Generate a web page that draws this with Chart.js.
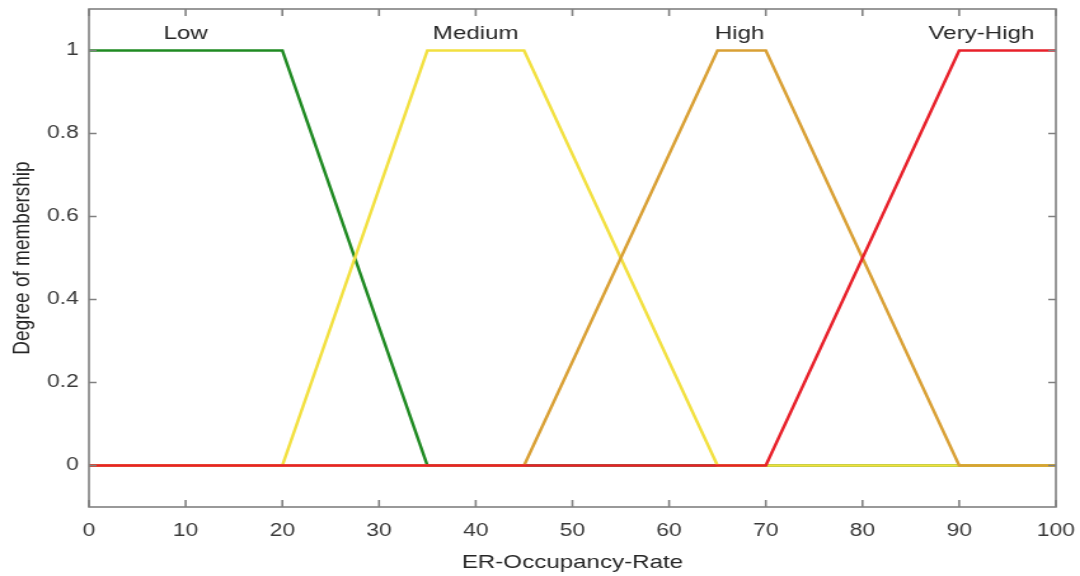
<!DOCTYPE html>
<html>
<head>
<meta charset="utf-8">
<script src="https://cdn.jsdelivr.net/npm/chart.js@4.4.0/dist/chart.umd.min.js"></script>
<style>
  html, body { margin: 0; padding: 0; background: #fff; overflow: hidden; }
  /* the reference figure is stretched sideways, so the chart is too */
  #wrap { width: 850px; height: 576px; transform: scaleX(1.2706); transform-origin: 0 0; }
</style>
</head>
<body>
<div id="wrap"><canvas id="chart"></canvas></div>
<script>
const xTicks = [0, 10, 20, 30, 40, 50, 60, 70, 80, 90, 100];
const yTicks = [0, 0.2, 0.4, 0.6, 0.8, 1];

// membership functions, MATLAB style (each drawn over the full range)
const lowX = [0, 20, 35, 100];
const lowY = [1, 1, 0, 0];
const mediumX = [0, 20, 35, 45, 65, 100];
const mediumY = [0, 0, 1, 1, 0, 0];
const highX = [0, 45, 65, 70, 90, 100];
const highY = [0, 0, 1, 1, 0, 0];
const veryHighX = [0, 70, 90, 100];
const veryHighY = [0, 0, 1, 1];

// set names written above each function
const setNames = ["Low", "Medium", "High", "Very-High"];
const setNameX = [10, 40, 67.3, 92.3];
const setNameY = [1.04, 1.04, 1.04, 1.04];

const toPoints = (xs, ys) => xs.map((v, i) => ({ x: v, y: ys[i] }));

const frame = {
  id: "frame",
  afterDraw(chart) {
    const { ctx, chartArea: a, scales } = chart;
    const x = scales.x, y = scales.y;
    ctx.save();
    ctx.strokeStyle = "#808080";
    ctx.lineWidth = 1.6;
    ctx.strokeRect(a.left, a.top, a.right - a.left, a.bottom - a.top);
    ctx.beginPath();
    x.ticks.forEach(t => {
      const px = x.getPixelForValue(t.value);
      ctx.moveTo(px, a.bottom); ctx.lineTo(px, a.bottom - 7);
      ctx.moveTo(px, a.top); ctx.lineTo(px, a.top + 7);
    });
    y.ticks.forEach(t => {
      const py = y.getPixelForValue(t.value);
      ctx.moveTo(a.left, py); ctx.lineTo(a.left + 6, py);
      ctx.moveTo(a.right, py); ctx.lineTo(a.right - 6, py);
    });
    ctx.stroke();

    ctx.font = '19px "Liberation Sans", Arial, sans-serif';
    ctx.fillStyle = "#262626";
    ctx.textAlign = "center";
    ctx.textBaseline = "middle";
    setNames.forEach((n, i) => {
      ctx.fillText(n, x.getPixelForValue(setNameX[i]), y.getPixelForValue(setNameY[i]));
    });
    ctx.restore();
  }
};

const line = (label, xs, ys, color, order) => ({
  label: label,
  data: toPoints(xs, ys),
  showLine: true,
  borderColor: color,
  borderWidth: 2.5,
  pointRadius: 0,
  fill: false,
  order: order, // higher order is drawn first
});

new Chart(document.getElementById("chart"), {
  type: "scatter",
  data: {
    datasets: [
      line("Low", lowX, lowY, "#1f8a22", 3),
      line("Medium", mediumX, mediumY, "#f2e040", 2),
      line("High", highX, highY, "#d9a035", 1),
      line("Very-High", veryHighX, veryHighY, "#e8202a", 0),
    ],
  },
  options: {
    responsive: true,
    maintainAspectRatio: false,
    animation: false,
    layout: { padding: { top: 9, right: 19, bottom: 0, left: 0 } },
    plugins: { legend: { display: false }, tooltip: { enabled: false } },
    scales: {
      x: {
        type: "linear",
        min: 0,
        max: 100,
        afterBuildTicks: s => { s.ticks = xTicks.map(v => ({ value: v })); },
        afterFit: s => { s.height = 69; s.paddingLeft = 0; s.paddingRight = 0; },
        grid: { display: false, drawTicks: false },
        border: { display: false },
        ticks: {
          padding: 13,
          color: "#3a3a3a",
          font: { family: "Liberation Sans", size: 18 },
          callback: v => String(v),
        },
        title: {
          display: true,
          text: "ER-Occupancy-Rate",
          color: "#262626",
          font: { family: "Liberation Sans", size: 19 },
          padding: { top: 0, bottom: 2 },
        },
      },
      y: {
        type: "linear",
        min: -0.1,
        max: 1.1,
        afterBuildTicks: s => { s.ticks = yTicks.map(v => ({ value: v })); },
        afterFit: s => { s.width = 70; s.paddingTop = 0; s.paddingBottom = 0; },
        grid: { display: false, drawTicks: false },
        border: { display: false },
        ticks: {
          padding: 8,
          color: "#3a3a3a",
          font: { family: "Liberation Sans", size: 18 },
          callback: v => String(v),
        },
        title: {
          display: true,
          text: "Degree of membership",
          color: "#262626",
          font: { family: "Liberation Sans", size: 19 },
          padding: { top: 6, bottom: 0 },
        },
      },
    },
  },
  plugins: [frame],
});
</script>
</body>
</html>
